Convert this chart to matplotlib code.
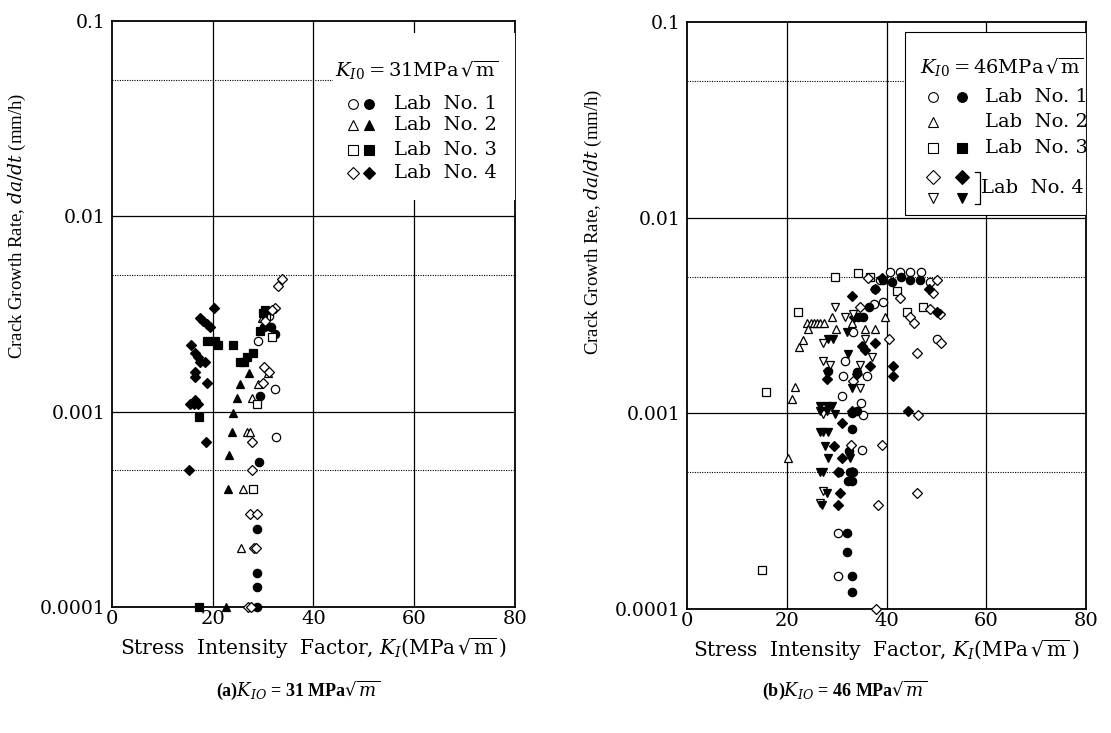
import matplotlib
matplotlib.use("Agg")
import matplotlib.pyplot as plt
from matplotlib.patches import Rectangle
import numpy as np

plt.rcParams['font.family'] = ['DejaVu Serif']
plt.rcParams['mathtext.fontset'] = 'dejavuserif'

# ---------------- data: (a) K_I0 = 31 MPa sqrt(m) ----------------
a_lab1_open_x = [29.0, 30.6, 31.2, 32.3, 32.5]
a_lab1_open_y = [0.0023, 0.0030, 0.0031, 0.0013, 0.00074]
a_lab1_fill_x = [30.2, 31.6, 32.3, 29.4, 29.2, 28.8, 28.8, 28.8, 28.8]
a_lab1_fill_y = [0.0027, 0.0027, 0.0025, 0.0012, 0.00055, 0.00025, 0.00015, 0.000127, 0.0001]
a_lab2_open_x = [29.8, 31.0, 29.0, 27.8, 26.8, 27.4, 26.0, 25.6]
a_lab2_open_y = [0.0030, 0.00157, 0.00138, 0.00118, 0.00079, 0.00079, 0.0004, 0.0002]
a_lab2_fill_x = [27.2, 25.4, 24.8, 24.0, 23.8, 23.2, 23.0, 22.6]
a_lab2_fill_y = [0.00157, 0.00138, 0.00118, 0.00099, 0.00079, 0.0006, 0.0004, 0.0001]
a_lab3_open_x = [31.7, 28.8, 28.0, 30.5]
a_lab3_open_y = [0.0024, 0.0011, 0.0004, 0.0031]
a_lab3_fill_x = [18.8, 20.4, 21.0, 24.0, 25.4, 26.2, 26.8, 28.0, 29.4, 30.0, 30.4, 17.3, 17.3]
a_lab3_fill_y = [0.0023, 0.0023, 0.0022, 0.0022, 0.0018, 0.0018, 0.0019, 0.0020, 0.0026, 0.0032, 0.0033, 0.00094, 0.0001]
a_lab4_open_x = [33.7, 32.9, 32.3, 31.7, 30.4, 30.2, 31.2, 30.0, 27.8, 27.8, 27.4, 28.8, 28.2, 28.6, 27.0, 27.6]
a_lab4_open_y = [0.0048, 0.0044, 0.0034, 0.0033, 0.0029, 0.0017, 0.0016, 0.0014, 0.0007, 0.0005, 0.0003, 0.0003, 0.0002, 0.0002, 0.0001, 0.0001]
a_lab4_fill_x = [20.2, 17.5, 18.1, 18.8, 19.4, 15.7, 16.5, 17.0, 17.5, 18.5, 16.5, 16.5, 18.8, 15.5, 16.3, 17.0, 16.5, 18.7, 15.3]
a_lab4_fill_y = [0.0034, 0.0030, 0.0029, 0.0028, 0.0027, 0.0022, 0.0020, 0.0019, 0.0018, 0.0018, 0.0016, 0.0015, 0.0014, 0.0011, 0.0011, 0.0011, 0.00115, 0.0007, 0.0005]

# ---------------- data: (b) K_I0 = 46 MPa sqrt(m) ----------------
b_lab1_open_x = [40.7, 42.7, 44.7, 46.9, 48.7, 38.7, 37.5, 39.3, 33.3, 50.1, 31.7, 31.3, 36.1, 31.1, 34.9, 35.3, 35.1, 30.3, 30.3]
b_lab1_open_y = [0.0053, 0.0053, 0.0053, 0.0053, 0.0047, 0.0048, 0.0036, 0.0037, 0.0026, 0.0024, 0.00185, 0.00155, 0.00155, 0.00122, 0.00113, 0.00098, 0.00065, 0.000245, 0.000148]
b_lab1_fill_x = [39.3, 41.1, 42.9, 44.7, 46.7, 37.7, 36.5, 35.3, 34.3, 34.1, 28.3, 33.1, 34.1, 33.1, 32.5, 30.5, 32.7, 33.3, 32.3, 33.1, 32.1, 32.1, 33.1, 33.1]
b_lab1_fill_y = [0.0048, 0.0047, 0.0050, 0.0048, 0.0048, 0.0043, 0.0035, 0.0031, 0.0031, 0.00162, 0.00164, 0.0010, 0.00103, 0.00083, 0.00064, 0.0005, 0.0005, 0.0005, 0.00045, 0.00045, 0.000245, 0.000196, 0.000148, 0.000122]
b_lab2_open_x = [24.0, 24.8, 25.4, 26.0, 26.6, 27.4, 24.3, 29.9, 29.1, 23.2, 22.4, 21.6, 21.0, 20.2, 33.0, 35.7, 37.7, 39.7]
b_lab2_open_y = [0.0029, 0.0029, 0.0029, 0.0029, 0.0029, 0.0029, 0.0027, 0.0027, 0.0031, 0.00237, 0.00218, 0.00137, 0.00118, 0.00059, 0.0029, 0.0027, 0.0027, 0.0031]
b_lab3_open_x = [29.7, 34.3, 36.7, 22.2, 15.8, 15.0, 42.1, 44.1, 47.3]
b_lab3_open_y = [0.0050, 0.0052, 0.0050, 0.0033, 0.00128, 0.000158, 0.0042, 0.0033, 0.0035]
b_lab4d_open_x = [50.1, 49.3, 42.7, 44.7, 45.5, 48.7, 50.7, 50.9, 40.5, 46.1, 46.3, 36.3, 34.6, 33.3, 32.9, 39.1, 38.3, 46.1, 37.9]
b_lab4d_open_y = [0.0048, 0.0041, 0.0039, 0.0031, 0.0029, 0.0034, 0.0032, 0.0023, 0.0024, 0.00203, 0.00098, 0.0049, 0.0035, 0.00146, 0.00069, 0.00069, 0.00034, 0.00039, 0.0001]
b_lab4d_fill_x = [33.1, 35.1, 35.7, 37.7, 36.7, 28.1, 33.1, 31.1, 29.5, 31.1, 30.3, 33.1, 30.7, 30.3, 44.3, 37.7, 39.1, 48.5, 50.1, 41.3, 41.3, 34.1, 33.5]
b_lab4d_fill_y = [0.0040, 0.0022, 0.0021, 0.0023, 0.00174, 0.00149, 0.00103, 0.00089, 0.00068, 0.00059, 0.0005, 0.0005, 0.00039, 0.00034, 0.00103, 0.0043, 0.0049, 0.0043, 0.0033, 0.00174, 0.00155, 0.00158, 0.0031]
b_lab4t_open_x = [29.7, 27.3, 27.3, 28.7, 31.7, 33.3, 34.7, 37.1, 35.7, 27.3, 34.7, 26.7, 27.3]
b_lab4t_open_y = [0.0035, 0.0023, 0.00185, 0.00176, 0.0031, 0.0032, 0.00176, 0.00193, 0.0024, 0.00099, 0.00135, 0.00035, 0.0004]
b_lab4t_fill_x = [26.7, 28.1, 29.1, 26.7, 28.1, 29.7, 28.3, 29.3, 28.1, 32.3, 32.1, 33.1, 26.7, 27.3, 28.3, 27.7, 28.3, 26.7, 27.3, 28.1, 27.1, 32.7]
b_lab4t_fill_y = [0.00109, 0.00109, 0.00109, 0.00103, 0.00103, 0.00099, 0.0024, 0.0024, 0.00158, 0.0020, 0.0026, 0.00135, 0.0008, 0.0008, 0.0008, 0.00068, 0.00059, 0.0005, 0.0005, 0.00039, 0.00034, 0.00059]

x_ticks = [0, 20, 40, 60, 80]
y_ticks = [0.0001, 0.001, 0.01, 0.1]
y_ticklabels = ['0.0001', '0.001', '0.01', '0.1']

fig = plt.figure(figsize=(11.11, 7.33), dpi=100)
axA = fig.add_axes([0.1008, 0.1719, 0.3627, 0.7995])
axB = fig.add_axes([0.6184, 0.1692, 0.3591, 0.8008])

MS = 6.0


def setup(ax, ylab_y):
    ax.set_yscale('log')
    ax.set_xlim(0, 80)
    ax.set_ylim(1e-4, 1e-1)
    ax.set_xticks(x_ticks)
    ax.set_xticklabels([str(t) for t in x_ticks])
    ax.set_yticks(y_ticks)
    ax.set_yticklabels(y_ticklabels)
    ax.yaxis.set_minor_locator(matplotlib.ticker.NullLocator())
    ax.tick_params(axis='x', length=0, labelsize=14, pad=2)
    ax.tick_params(axis='y', length=0, labelsize=13.5, pad=5)
    for s in ax.spines.values():
        s.set_linewidth(1.3)
        s.set_color('black')
    for gx in [20, 40, 60]:
        ax.axvline(gx, color='black', lw=0.9, zorder=1)
    for gy in [0.01, 0.001]:
        ax.axhline(gy, color='black', lw=0.9, zorder=1)
    for gy in [0.05, 0.005, 0.0005]:
        ax.axhline(gy, color='black', lw=0.8, ls=(0, (1, 1.2)), zorder=1)
    ax.set_xlabel(r'Stress  Intensity  Factor, $K_I$(MPa$\,\sqrt{\mathrm{m}}\,$)', fontsize=14.5, labelpad=6)
    ax.set_ylabel(r'Crack Growth Rate, $da/dt$ (mm/h)', fontsize=13.5, family='Liberation Serif')
    ax.yaxis.set_label_coords(-0.208, ylab_y)


def pts(ax, x, y, marker, filled, ms=MS):
    ax.plot(x, y, ls='none', marker=marker, ms=ms,
            mfc='black' if filled else 'white', mec='black', mew=0.9,
            clip_on=False, zorder=3)


setup(axA, 0.65)
setup(axB, 0.66)

# (a)
pts(axA, a_lab1_open_x, a_lab1_open_y, 'o', False)
pts(axA, a_lab1_fill_x, a_lab1_fill_y, 'o', True)
pts(axA, a_lab2_open_x, a_lab2_open_y, '^', False)
pts(axA, a_lab2_fill_x, a_lab2_fill_y, '^', True)
pts(axA, a_lab3_open_x, a_lab3_open_y, 's', False, MS - 0.5)
pts(axA, a_lab3_fill_x, a_lab3_fill_y, 's', True, MS - 0.5)
pts(axA, a_lab4_open_x, a_lab4_open_y, 'D', False, MS - 1)
pts(axA, a_lab4_fill_x, a_lab4_fill_y, 'D', True, MS - 1)

# (b)
pts(axB, b_lab1_open_x, b_lab1_open_y, 'o', False)
pts(axB, b_lab1_fill_x, b_lab1_fill_y, 'o', True)
pts(axB, b_lab2_open_x, b_lab2_open_y, '^', False)
pts(axB, b_lab3_open_x, b_lab3_open_y, 's', False, MS - 0.5)
pts(axB, b_lab4d_open_x, b_lab4d_open_y, 'D', False, MS - 1)
pts(axB, b_lab4d_fill_x, b_lab4d_fill_y, 'D', True, MS - 1)
pts(axB, b_lab4t_open_x, b_lab4t_open_y, 'v', False)
pts(axB, b_lab4t_fill_x, b_lab4t_fill_y, 'v', True)

LFS = 14

# legend (a)
axA.add_patch(Rectangle((0.548, 0.695), 0.452, 0.285, transform=axA.transAxes,
                        facecolor='white', edgecolor='none', zorder=4))
axA.text(0.553, 0.916, r'$K_{I0}$$=$31MPa$\,\sqrt{\mathrm{m}}$', transform=axA.transAxes,
         fontsize=LFS, va='center', ha='left', zorder=5)
leg_a = [('o', 'Lab  No. 1'), ('^', 'Lab  No. 2'), ('s', 'Lab  No. 3'), ('D', 'Lab  No. 4')]
rows_a = [0.858, 0.822, 0.780, 0.741]
for (mk, lab), yy in zip(leg_a, rows_a):
    msz = MS if mk in 'o^' else (MS - 0.5 if mk == 's' else MS - 1)
    axA.plot([0.598], [yy], transform=axA.transAxes, marker=mk, ms=msz + 1, mfc='white', mec='black', mew=0.8, ls='none', zorder=5, clip_on=False)
    axA.plot([0.638], [yy], transform=axA.transAxes, marker=mk, ms=msz + 1, mfc='black', mec='black', mew=0.8, ls='none', zorder=5, clip_on=False)
    axA.text(0.700, yy, lab, transform=axA.transAxes, fontsize=LFS, va='center', ha='left', zorder=5)

# legend (b)
axB.add_patch(Rectangle((0.546, 0.671), 0.454, 0.312, transform=axB.transAxes,
                        facecolor='white', edgecolor='black', lw=0.8, zorder=4))
axB.text(0.584, 0.922, r'$K_{I0}$$=$46MPa$\,\sqrt{\mathrm{m}}$', transform=axB.transAxes,
         fontsize=LFS, va='center', ha='left', zorder=5)
leg_b = [(('o', 'o'), 0.872), (('^', None), 0.830), (('s', 's'), 0.785)]
labs_b = ['Lab  No. 1', 'Lab  No. 2', 'Lab  No. 3']
for ((mo, mf), yy), lab in zip(leg_b, labs_b):
    msz = MS if mo in 'o^' else MS - 0.5
    axB.plot([0.617], [yy], transform=axB.transAxes, marker=mo, ms=msz + 1, mfc='white', mec='black', mew=0.8, ls='none', zorder=5, clip_on=False)
    if mf:
        axB.plot([0.689], [yy], transform=axB.transAxes, marker=mf, ms=msz + 1, mfc='black', mec='black', mew=0.8, ls='none', zorder=5, clip_on=False)
    axB.text(0.748, yy, lab, transform=axB.transAxes, fontsize=LFS, va='center', ha='left', zorder=5)
for mk, yy in [('D', 0.736), ('v', 0.700)]:
    axB.plot([0.617], [yy], transform=axB.transAxes, marker=mk, ms=MS + 1, mfc='white', mec='black', mew=0.8, ls='none', zorder=5, clip_on=False)
    axB.plot([0.689], [yy], transform=axB.transAxes, marker=mk, ms=MS + 1, mfc='black', mec='black', mew=0.8, ls='none', zorder=5, clip_on=False)
axB.plot([0.722, 0.734, 0.734, 0.722], [0.745, 0.745, 0.690, 0.690], transform=axB.transAxes,
         color='black', lw=0.9, zorder=5, clip_on=False)
axB.text(0.738, 0.717, 'Lab  No. 4', transform=axB.transAxes, fontsize=LFS, va='center', ha='left', zorder=5)

# captions
fig.text(298 / 1111, 1 - 690 / 733, r'(a)$\boldsymbol{K_{IO}}$ = 31 MPa$\boldsymbol{\sqrt{m}}$',
         fontsize=13, fontweight='bold', family='Liberation Serif', ha='center', va='center')
fig.text(845 / 1111, 1 - 690 / 733, r'(b)$\boldsymbol{K_{IO}}$ = 46 MPa$\boldsymbol{\sqrt{m}}$',
         fontsize=13, fontweight='bold', family='Liberation Serif', ha='center', va='center')

fig.savefig('out.png', dpi=100, facecolor='white')
